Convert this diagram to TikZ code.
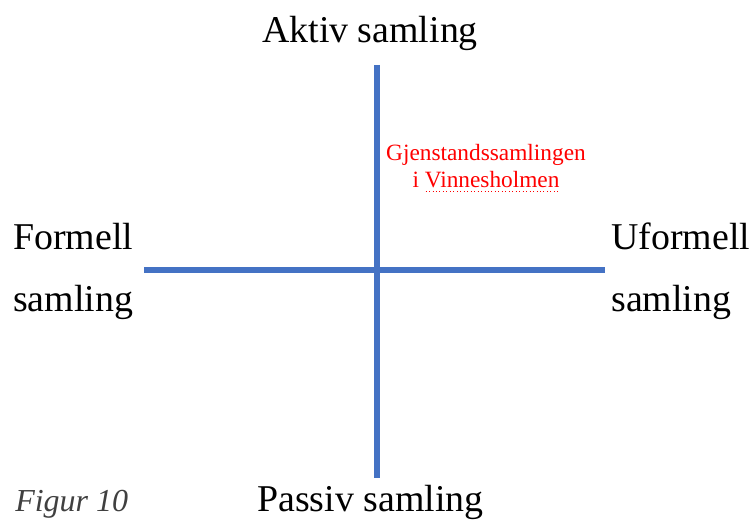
\documentclass[tikz,border=0pt]{standalone}
\usepackage{fontspec}
\setmainfont{Liberation Serif}
\definecolor{axisblue}{HTML}{4472C4}
\definecolor{figgray}{HTML}{404040}
\definecolor{redtxt}{HTML}{FF0000}
\tikzset{
  axisline/.style={draw=axisblue, line width=4.6pt},
  biglabel/.style={font=\fontsize{28.4}{34}\selectfont, inner sep=0pt, anchor=base west},
  redlabel/.style={font=\fontsize{17.5}{20}\selectfont, text=redtxt, inner sep=0pt, anchor=base},
}
\begin{document}
\begin{tikzpicture}[x=0.75pt, y=-0.75pt]
\useasboundingbox (0,0) rectangle (754,520);
% axes
\coordinate (vtop) at (377,65);
\coordinate (vbot) at (377,478);
\coordinate (hl) at (144,270);
\coordinate (hr) at (605,270);
\draw[axisline] (vtop) -- (vbot);
\draw[axisline] (hl) -- (hr);
% labels
\node[biglabel] (aktiv) at (262,43) {Aktiv samling};
\node[biglabel] (formell) at (13,250) {Formell};
\node[biglabel] (fsam) at (13,312) {samling};
\node[biglabel] (uformell) at (611,250) {Uformell};
\node[biglabel] (usam) at (611,312) {samling};
\node[biglabel] (passiv) at (257,512) {Passiv samling};
\node[font=\fontsize{24}{28}\selectfont\itshape, text=figgray, inner sep=0pt, anchor=base west] (fig) at (15,512) {Figur 10};
% red text
\node[redlabel] (gj) at (486,161) {Gjenstandssamlingen};
\node[redlabel] (vin) at (486,188) {i Vinnesholmen};
\draw[redtxt, line width=0.6pt, dotted] ([xshift=10pt,yshift=-2.5pt]vin.base west) -- ([yshift=-2.5pt]vin.base east);
\end{tikzpicture}
\end{document}
